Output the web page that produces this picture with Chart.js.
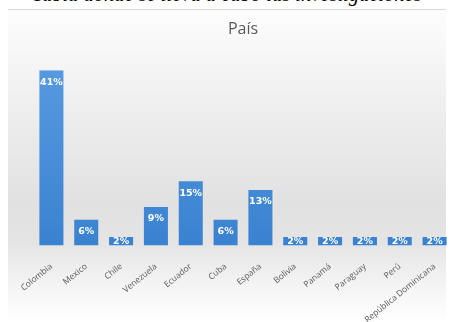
<!DOCTYPE html>
<html>
<head>
<meta charset="utf-8">
<script src="https://cdn.jsdelivr.net/npm/chart.js@4"></script>
<style>
  html, body { margin: 0; padding: 0; width: 450px; height: 322px; overflow: hidden; background: #ffffff; }
  #caption { position: absolute; left: 0; width: 454px; top: -18px; text-align: center;
    font-family: "Liberation Serif", "DejaVu Serif", serif; font-style: italic; font-size: 20.5px; line-height: 24px; color: #000; white-space: nowrap; }
  #panel { position: absolute; left: 8px; top: 9px; width: 438px; height: 313px;
    border-top: 1px solid #d9d9d9;
    background: linear-gradient(to bottom, #fdfdfd 0%, #f0f0f0 28%, #e1e1e1 62%, #e4e4e4 74%, #f4f4f4 88%, #ffffff 100%); }
  #wrap { position: absolute; left: 0; top: 10px; width: 452px; height: 323px; }
</style>
</head>
<body>
<div id="caption">Tabla donde se lleva a cabo las investigaciones</div>
<div id="panel"></div>
<div id="wrap"><canvas id="c"></canvas></div>
<script>
const categories = ["Colombia", "Mexico", "Chile", "Venezuela", "Ecuador", "Cuba", "España", "Bolivia", "Panamá", "Paraguay", "Perú", "República Dominicana"];
const values = [41, 6, 2, 9, 15, 6, 13, 2, 2, 2, 2, 2];
const chartTitle = "País";

const valueLabels = {
  id: 'valueLabels',
  afterDatasetsDraw(chart) {
    const ctx = chart.ctx;
    const meta = chart.getDatasetMeta(0);
    ctx.save();
    ctx.fillStyle = '#ffffff';
    ctx.font = 'bold 9.5px "DejaVu Sans", sans-serif';
    ctx.textAlign = 'center';
    ctx.textBaseline = 'middle';
    meta.data.forEach((bar, i) => {
      const h = bar.base - bar.y;
      const y = h < 16 ? (bar.y + bar.base) / 2 : bar.y + 12;
      ctx.fillText(values[i] + '%', bar.x, y);
    });
    ctx.restore();
  }
};

const ctx = document.getElementById('c');
new Chart(ctx, {
  type: 'bar',
  data: {
    labels: categories,
    datasets: [{
      data: values,
      backgroundColor: (c) => {
        const area = c.chart.chartArea;
        if (!area) return '#4a8fd6';
        const g = c.chart.ctx.createLinearGradient(0, area.top, 0, area.bottom);
        g.addColorStop(0, '#5699e0');
        g.addColorStop(1, '#3a82d0');
        return g;
      },
      borderWidth: 0,
      barPercentage: 0.69,
      categoryPercentage: 1.0
    }]
  },
  options: {
    responsive: true,
    maintainAspectRatio: false,
    animation: false,
    layout: { padding: { left: 34, right: 0, top: 0, bottom: 0 } },
    plugins: {
      legend: { display: false },
      tooltip: { enabled: false },
      title: {
        display: true,
        text: chartTitle,
        color: '#595959',
        font: { family: '"Open Sans", "DejaVu Sans", sans-serif', size: 16, weight: 'normal' },
        padding: { top: 10, bottom: 31 }
      }
    },
    scales: {
      x: {
        grid: { display: false },
        border: { display: false },
        ticks: {
          color: '#595959',
          font: { family: '"Open Sans", "DejaVu Sans", sans-serif', size: 8.5 },
          minRotation: 39, maxRotation: 39, padding: 8, autoSkip: false
        }
      },
      y: {
        display: false,
        min: 0,
        max: 41
      }
    }
  },
  plugins: [valueLabels]
});
</script>
</body>
</html>
